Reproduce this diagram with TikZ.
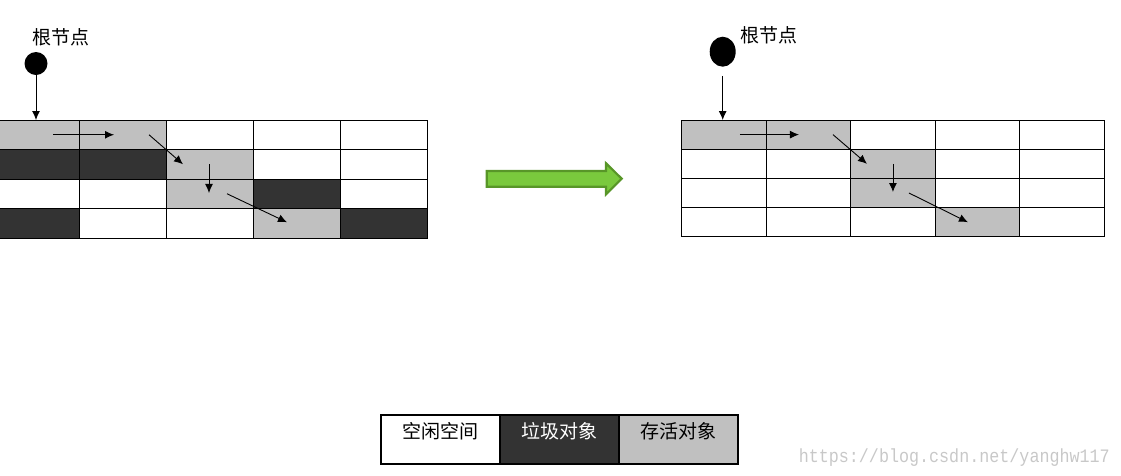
\documentclass[tikz,border=0pt]{standalone}
\usepackage{fontspec}
\setmainfont{Liberation Sans}
\newfontfamily\cjk{Noto Sans CJK SC}
\newfontfamily\wmfont{Liberation Mono}
\usepackage{tikz}
\usetikzlibrary{arrows.meta,calc,positioning,shapes.geometric}
\definecolor{livegray}{RGB}{192,192,192}
\definecolor{deadgray}{RGB}{51,51,51}
\definecolor{arrowgreen}{RGB}{122,201,61}
\definecolor{arrowedge}{RGB}{88,150,40}
\definecolor{markgray}{RGB}{200,200,200}
\tikzset{%
	cell/.style      = {draw, rectangle, line width=1pt, inner sep=0pt, outer sep=0pt, anchor=north west},
	lcell/.style     = {cell, minimum width=86.8pt, minimum height=29.5pt},
	rcell/.style     = {cell, minimum width=84.5pt, minimum height=29.2pt},
	livecell/.style  = {fill=livegray},
	deadcell/.style  = {fill=deadgray},
	freecell/.style  = {fill=white},
	rootdot/.style   = {circle, fill=black, inner sep=0pt, minimum size=23pt},
	rootegg/.style   = {ellipse, fill=black, inner sep=0pt, minimum width=26pt, minimum height=30pt},
	rootlabel/.style = {inner sep=0pt, font=\cjk\fontsize{19}{22}\selectfont},
	link/.style      = {line width=0.9pt, -{Latex[length=9pt,width=8pt]}},
	legend/.style    = {draw, rectangle, line width=1.1pt, minimum width=119pt, minimum height=49pt, inner sep=0pt, outer sep=0pt, text height=16pt, text depth=18pt, font=\cjk\fontsize{19}{22}\selectfont},
	bigarrow/.style  = {fill=arrowgreen, draw=arrowedge, line width=2.2pt, line join=miter},
}
\begin{document}
\begin{tikzpicture}[x=1pt,y=-1pt]
	\useasboundingbox (0,0) rectangle (1121,475);
	% heap before marking
	\foreach \row [count=\r from 0] in {{livecell,livecell,freecell,freecell,freecell},{deadcell,deadcell,livecell,freecell,freecell},{freecell,freecell,livecell,deadcell,freecell},{deadcell,freecell,freecell,livecell,deadcell}}
		\foreach \kind [count=\c from 0] in \row
			\node[lcell,\kind] (L-\r-\c) at (-7+86.8*\c,120+29.5*\r) {};
	\node[rootdot] (lroot) at (36,63.5) {};
	\node[rootlabel] (lrootlabel) at (61,37) {根节点};
	\draw[link] (lroot) -- (lroot |- L-0-0.north);
	\draw[link] ($(L-0-0)+(16.6,0)$) -- ($(L-0-1)+(-9.2,0)$);
	\draw[link] ($(L-0-1)+(25.8,0)$) -- ($(L-1-2)+(-27,0)$);
	\draw[link] ($(L-1-2)+(-1,0)$) -- ($(L-2-2)+(-1,-0.8)$);
	\draw[link] ($(L-2-2)+(17,0)$) -- ($(L-3-3)+(-9.8,-1)$);
	% heap after compaction
	\foreach \row [count=\r from 0] in {{livecell,livecell,freecell,freecell,freecell},{freecell,freecell,livecell,freecell,freecell},{freecell,freecell,livecell,freecell,freecell},{freecell,freecell,freecell,livecell,freecell}}
		\foreach \kind [count=\c from 0] in \row
			\node[rcell,\kind] (R-\r-\c) at (681.7+84.5*\c,120+29.2*\r) {};
	\node[rootegg] (rroot) at (722.7,51.7) {};
	\node[rootlabel] (rrootlabel) at (769,35) {根节点};
	\draw[link, shorten <=9pt] (rroot) -- (rroot |- R-0-0.north);
	\draw[link] ($(R-0-0)+(16,0)$) -- ($(R-0-1)+(-9.5,0)$);
	\draw[link] ($(R-0-1)+(24.5,0)$) -- ($(R-1-2)+(-26,0)$);
	\draw[link] ($(R-1-2)+(0,0)$) -- ($(R-2-2)+(0,-1)$);
	\draw[link] ($(R-2-2)+(16,0)$) -- ($(R-3-3)+(-9.5,0)$);
	% green arrow
	\draw[bigarrow] (486.7,171) -- (606,171) -- (606,163.3) -- (621.7,178.7) -- (606,194.3) -- (606,186.7) -- (486.7,186.7) -- cycle;
	% legend
	\node[legend, fill=white] (freekey) at (440.5,439.5) {空闲空间};
	\node[legend, fill=deadgray, text=white, right=0pt of freekey] (deadkey) {垃圾对象};
	\node[legend, fill=livegray, right=0pt of deadkey] (livekey) {存活对象};
	\node[anchor=base east, text=markgray, inner sep=0pt, font=\wmfont\fontsize{19}{19}\selectfont] (mark) at (1110,462) {\scalebox{0.88}[1]{https://blog.csdn.net/yanghw117}};
\end{tikzpicture}
\end{document}
